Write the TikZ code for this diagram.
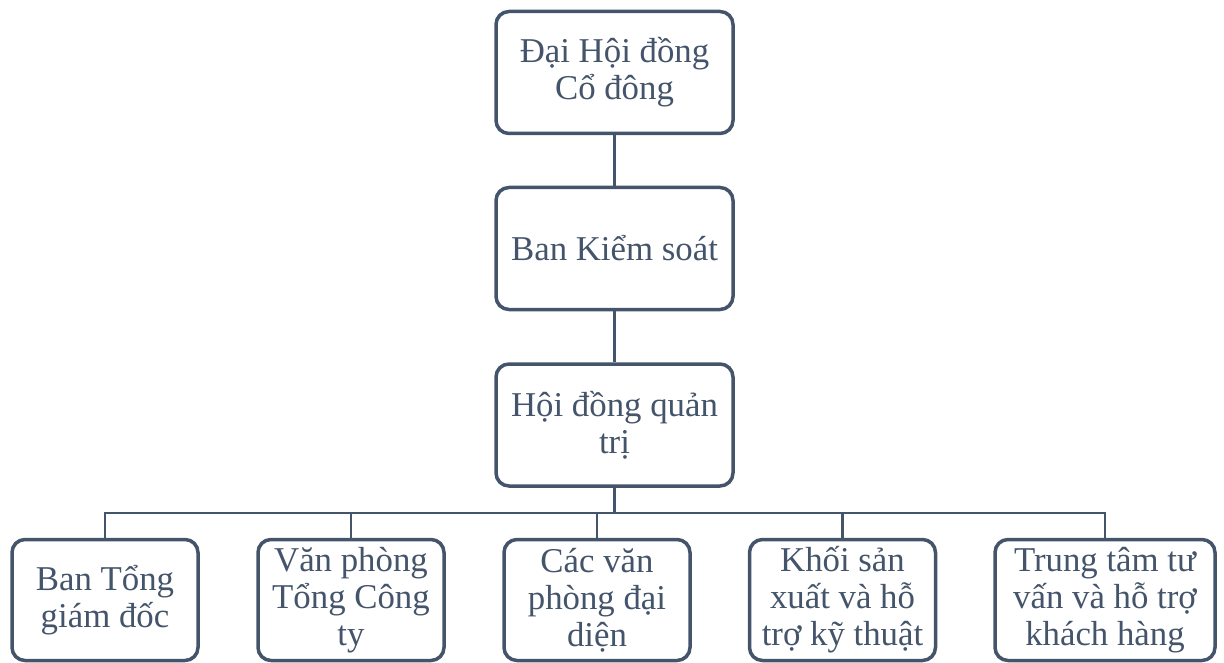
\documentclass[tikz,border=0pt]{standalone}
\usepackage{fontspec}
\setmainfont{Liberation Serif}
\definecolor{slate}{HTML}{44546A}
\begin{document}
\begin{tikzpicture}[x=1pt,y=-1pt,
  box/.style={draw=slate, line width=3.5pt, rounded corners=13pt, fill=white,
    text=slate, align=center, inner sep=0pt, font=\fontsize{34.8}{37}\selectfont},
  topbox/.style={box, minimum width=237pt, minimum height=122pt},
  botbox/.style={box, minimum width=186pt, minimum height=121pt},
  conn/.style={draw=slate, line width=2.8pt}]
\useasboundingbox (0,0) rectangle (1224,663);
\node[topbox] (dhd) at (614.5,72.5) {Đại Hội đồng\\Cổ đông};
\node[topbox] (bks) at (614.5,248.5) {Ban Kiểm soát};
\node[topbox] (hdqt) at (614.5,425) {Hội đồng quản\\trị};
\node[botbox] (b1) at (105,600) {Ban Tổng\\giám đốc};
\node[botbox] (b2) at (351,600) {Văn phòng\\Tổng Công\\ty};
\node[botbox] (b3) at (597,600) {Các văn\\phòng đại\\diện};
\node[botbox] (b4) at (842.5,600) {Khối sản\\xuất và hỗ\\trợ kỹ thuật};
\node[botbox, minimum width=220pt] (b5) at (1105,600) {Trung tâm tư\\vấn và hỗ trợ\\khách hàng};
\coordinate (bus) at (0,513);
\draw[conn] (dhd.south) -- (bks.north);
\draw[conn] (bks.south) -- (hdqt.north);
\draw[conn] (hdqt.south) -- (hdqt.south |- bus);
\draw[conn] (b1.north) -- (b1.north |- bus) -- (b5.north |- bus) -- (b5.north);
\draw[conn] (b2.north) -- (b2.north |- bus);
\draw[conn] (b3.north) -- (b3.north |- bus);
\draw[conn] (b4.north) -- (b4.north |- bus);
\end{tikzpicture}
\end{document}
